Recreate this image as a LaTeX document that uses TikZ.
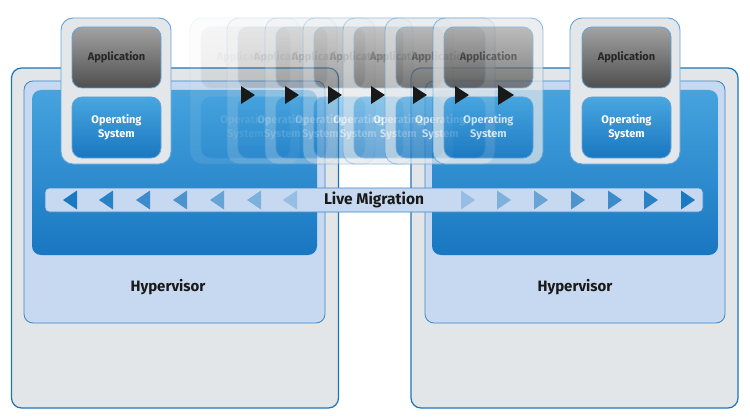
\documentclass[tikz,border=0pt]{standalone}
\usepackage{fontspec}
\setmainfont{Fira Sans}
\definecolor{srvline}{HTML}{1C75BC}
\definecolor{srvgray}{HTML}{E3E6E8}
\definecolor{hvblue}{HTML}{C6D9F0}
\definecolor{hvline}{HTML}{3A86C8}
\definecolor{coretop}{HTML}{46A3DE}
\definecolor{corebot}{HTML}{1877C1}
\definecolor{vmline}{HTML}{62A5D9}
\definecolor{vmgray}{HTML}{E4E7E9}
\definecolor{apptop}{HTML}{A2A2A2}
\definecolor{appbot}{HTML}{4E4E4E}
\definecolor{ostop}{HTML}{48A6E0}
\definecolor{osbot}{HTML}{1A77C0}
\definecolor{tricol}{HTML}{1B78C2}
\tikzset{
  server/.style={draw=srvline, line width=1.2pt, fill=srvgray, rounded corners=10pt, inner sep=0pt, minimum width=327pt, minimum height=340pt},
  hyper/.style={draw=hvline, line width=0.8pt, fill=hvblue, rounded corners=9pt, inner sep=0pt, minimum height=242pt},
  core/.style={top color=coretop, bottom color=corebot, rounded corners=9pt, inner sep=0pt, minimum height=165pt},
  bar/.style={draw=hvline, line width=0.8pt, fill=hvblue, rounded corners=4pt, inner sep=0pt, minimum width=658pt, minimum height=24pt},
  vm/.style={draw=vmline, line width=0.9pt, fill=vmgray, rounded corners=12pt, inner sep=0pt, minimum width=110pt, minimum height=146pt},
  app/.style={draw=vmline, line width=0.8pt, top color=apptop, bottom color=appbot, rounded corners=10pt, inner sep=0pt, minimum width=89pt, minimum height=61pt, font=\fontsize{11}{13}\selectfont\bfseries, text=black!85},
  os/.style={draw=vmline, line width=0.8pt, top color=ostop, bottom color=osbot, rounded corners=10pt, inner sep=0pt, minimum width=89pt, minimum height=61pt, font=\fontsize{11}{14}\selectfont\bfseries, text=white, align=center},
  label/.style={font=\fontsize{15}{17}\selectfont\bfseries, text=black!90, inner sep=0pt}
}
\begin{document}
\begin{tikzpicture}[x=1pt, y=-1pt]
    \useasboundingbox (0,0) rectangle (750,420);
    \fill[white] (0,0) rectangle (750,420);

    % left server
    \node [server, name=s1] at (175,238) {};
    \node [hyper, minimum width=301pt, name=h1] at (174.5,202) {};
    \node [core, minimum width=285pt, name=c1] at (174.5,172.5) {};
    \node [label, name=hv1] at (168,287) {Hypervisor};

    % right server
    \node [server, name=s2] at (574.5,238) {};
    \node [hyper, minimum width=300pt, name=h2] at (575,202) {};
    \node [core, minimum width=286pt, name=c2] at (575,172.5) {};
    \node [label, name=hv2] at (575,287) {Hypervisor};

    % live migration bar
    \node [bar, name=lm] at (374,200) {};
    \node [label, font=\fontsize{15.5}{17}\selectfont\bfseries, name=lmt] at (374,200) {Live Migration};
    \foreach \x/\o in {70/1, 106/0.9, 143/0.8, 180/0.7, 217/0.55, 254/0.42, 290/0.28}
      \fill [tricol, opacity=\o] (\x-7,200) -- (\x+7,190.5) -- (\x+7,209.5) -- cycle;
    \foreach \x/\o in {468/0.28, 504/0.42, 541/0.55, 578/0.7, 615/0.8, 651/0.9, 688/1}
      \fill [tricol, opacity=\o] (\x+7,200) -- (\x-7,190.5) -- (\x-7,209.5) -- cycle;

    % right vm
    \node [vm, name=vm2] at (625,91) {};
    \node [app, name=app2] at (626.5,57.5) {Application};
    \node [os, name=os2] at (626.5,127.5) {Operating\\System};

    % migrating copies
    \foreach \x/\o [count=\i] in {245/0.1, 282/0.18, 320/0.26, 358/0.34, 398/0.44, 440/0.56, 488/0.72} {
      \begin{scope}[transparency group, opacity=\o]
        \node [vm, name=g\i] at (\x,91) {};
        \node [app, name=ga\i] at (\x+0.5,57.5) {Application};
        \node [os, name=go\i] at (\x+0.5,127.5) {Operating\\System};
      \end{scope}
    }

    % left vm
    \node [vm, name=vm1] at (116,91) {};
    \node [app, name=app1] at (116.5,57.5) {Application};
    \node [os, name=os1] at (116.5,127.5) {Operating\\System};

    % move arrows
    \foreach \x in {241, 285, 328, 371, 413, 455}
      \fill [black!90] (\x,86) -- (\x+14,95) -- (\x,104) -- cycle;
    \fill [black!90] (498,85) -- (514,95) -- (498,105) -- cycle;
\end{tikzpicture}
\end{document}
